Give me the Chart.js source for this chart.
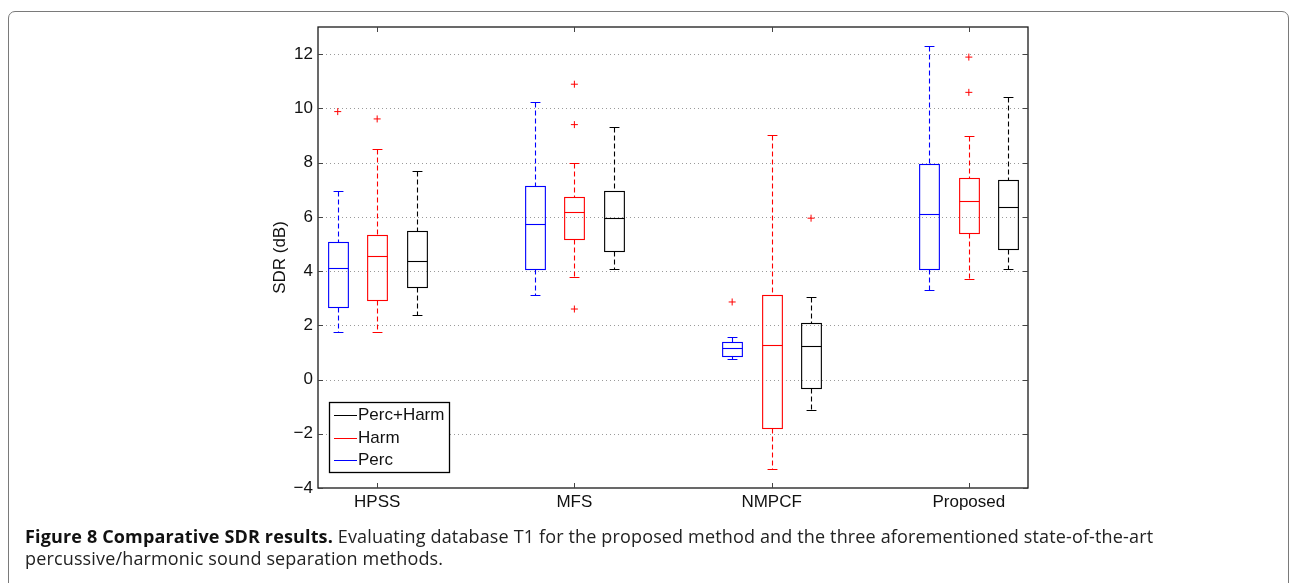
<!DOCTYPE html>
<html>
<head>
<meta charset="utf-8">
<script src="https://cdn.jsdelivr.net/npm/chart.js@4/dist/chart.umd.min.js"></script>
<style>
    html, body { margin: 0; padding: 0; background: #fff; }
    body { width: 1294px; height: 583px; position: relative; overflow: hidden; }
    .card {
        position: absolute; left: 8px; top: 11px; width: 1281px; height: 600px;
        border: 1px solid #7a7a7a; border-radius: 7px; box-sizing: border-box;
    }
    #chart-wrap { position: absolute; left: 0; top: 0; width: 1294px; height: 583px; }
    .caption {
        position: absolute; left: 25px; top: 525px;
        font-family: "Open Sans", sans-serif; font-size: 18px; line-height: 22px;
        color: #222; white-space: nowrap; letter-spacing: 0.15px;
    }
    .caption b { font-weight: 700; color: #111; }
</style>
</head>
<body>
<div class="card"></div>
<div id="chart-wrap"><canvas id="sdrChart" width="1294" height="583"></canvas></div>
<div class="caption"><b>Figure 8 Comparative SDR results.</b> Evaluating database T1 for the proposed method and the three aforementioned state-of-the-art<br>percussive/harmonic sound separation methods.</div>

<script>
// Categories and five-number summaries [lower whisker, Q1, median, Q3, upper whisker]
const categories = ["HPSS", "MFS", "NMPCF", "Proposed"];

const percStats = [
    [1.77, 2.67, 4.13, 5.07, 6.95],
    [3.10, 4.09, 5.75, 7.14, 10.25],
    [0.74, 0.87, 1.18, 1.38, 1.58],
    [3.29, 4.09, 6.11, 7.93, 12.29]
];
const harmStats = [
    [1.74, 2.92, 4.56, 5.33, 8.49],
    [3.78, 5.19, 6.16, 6.74, 7.99],
    [-3.30, -1.77, 1.29, 3.13, 9.03],
    [3.70, 5.40, 6.60, 7.44, 8.99]
];
const bothStats = [
    [2.38, 3.41, 4.36, 5.47, 7.69],
    [4.09, 4.74, 5.94, 6.97, 9.32],
    [-1.12, -0.30, 1.23, 2.08, 3.04],
    [4.09, 4.82, 6.35, 7.37, 10.43]
];

// Outliers per category
const percOutliers = [[9.88], [], [2.86], []];
const harmOutliers = [[9.61], [10.89, 9.40, 2.60], [], [11.89, 10.59]];
const bothOutliers = [[], [], [5.95], []];

const yTicks = [-4, -2, 0, 2, 4, 6, 8, 10, 12];

// ✅ Series setup (offset along the category axis)
const series = [
    { label: "Perc", color: "#0000ff", stats: percStats, outliers: percOutliers, offset: -0.2 },
    { label: "Harm", color: "#ff0000", stats: harmStats, outliers: harmOutliers, offset: 0 },
    { label: "Perc+Harm", color: "#000000", stats: bothStats, outliers: bothOutliers, offset: 0.2 }
];

const FONT = "Liberation Sans, Arial, sans-serif";

function outlierPoints(s) {
    const pts = [];
    s.outliers.forEach((vals, i) => vals.forEach(v => pts.push({ x: i + 1 + s.offset, y: v })));
    return pts;
}

// ✅ Grid, frame and inward ticks
const framePlugin = {
    id: "frame",
    beforeDatasetsDraw(chart) {
        const { ctx, chartArea: a, scales: { y } } = chart;
        ctx.save();
        ctx.strokeStyle = "#9a9a9a";
        ctx.lineWidth = 1;
        ctx.setLineDash([1, 3]);
        yTicks.forEach(v => {
            const py = Math.round(y.getPixelForValue(v)) + 0.5;
            if (py <= a.top + 1 || py >= a.bottom - 1) return;
            ctx.beginPath();
            ctx.moveTo(a.left, py);
            ctx.lineTo(a.right, py);
            ctx.stroke();
        });
        ctx.restore();
    },
    afterDatasetsDraw(chart) {
        const { ctx, chartArea: a, scales: { x, y } } = chart;
        ctx.save();
        ctx.strokeStyle = "#1a1a1a";
        ctx.lineWidth = 1.3;
        ctx.setLineDash([]);
        ctx.strokeRect(a.left, a.top, a.right - a.left, a.bottom - a.top);
        ctx.strokeStyle = "#444";
        ctx.lineWidth = 1;
        yTicks.forEach(v => {
            const py = Math.round(y.getPixelForValue(v)) + 0.5;
            ctx.beginPath();
            ctx.moveTo(a.left, py); ctx.lineTo(a.left + 5, py);
            ctx.moveTo(a.right, py); ctx.lineTo(a.right - 5, py);
            ctx.stroke();
        });
        categories.forEach((c, i) => {
            const px = Math.round(x.getPixelForValue(i + 1)) + 0.5;
            ctx.beginPath();
            ctx.moveTo(px, a.bottom); ctx.lineTo(px, a.bottom - 5);
            ctx.moveTo(px, a.top); ctx.lineTo(px, a.top + 5);
            ctx.stroke();
        });
        ctx.restore();
    }
};

// ✅ Box and whisker drawing through the chart scales
const boxPlugin = {
    id: "boxes",
    beforeDatasetsDraw(chart) {
        const { ctx, scales: { x, y } } = chart;
        const halfBox = x.getPixelForValue(1.05) - x.getPixelForValue(1);
        const halfCap = x.getPixelForValue(1.025) - x.getPixelForValue(1);
        ctx.save();
        ctx.lineWidth = 1.1;
        series.forEach(s => {
            ctx.strokeStyle = s.color;
            s.stats.forEach((st, i) => {
                const cx = Math.round(x.getPixelForValue(i + 1 + s.offset)) + 0.5;
                const [lo, q1, med, q3, hi] = st.map(v => Math.round(y.getPixelForValue(v)) + 0.5);
                // whiskers
                ctx.setLineDash([5, 3]);
                ctx.beginPath();
                ctx.moveTo(cx, hi); ctx.lineTo(cx, q3);
                ctx.moveTo(cx, q1); ctx.lineTo(cx, lo);
                ctx.stroke();
                ctx.setLineDash([]);
                ctx.beginPath();
                ctx.moveTo(cx - halfCap, hi); ctx.lineTo(cx + halfCap, hi);
                ctx.moveTo(cx - halfCap, lo); ctx.lineTo(cx + halfCap, lo);
                ctx.stroke();
                // box and median
                ctx.strokeRect(cx - halfBox, q3, halfBox * 2, q1 - q3);
                ctx.beginPath();
                ctx.moveTo(cx - halfBox, med); ctx.lineTo(cx + halfBox, med);
                ctx.stroke();
            });
        });
        ctx.restore();
    }
};

// ✅ Legend box inside the plot
const legendPlugin = {
    id: "boxLegend",
    afterDraw(chart) {
        const { ctx, chartArea: a } = chart;
        const left = a.left + 11, top = a.bottom - 86, w = 120, h = 70;
        ctx.save();
        ctx.fillStyle = "#fff";
        ctx.fillRect(left, top, w, h);
        ctx.strokeStyle = "#000";
        ctx.lineWidth = 1.3;
        ctx.strokeRect(left + 0.5, top + 0.5, w, h);
        ctx.font = "17px " + FONT;
        ctx.textBaseline = "middle";
        ctx.fillStyle = "#111";
        const order = [series[2], series[1], series[0]];
        order.forEach((s, k) => {
            const ry = Math.round(top + 13 + k * 22.5) + 0.5;
            ctx.strokeStyle = s.color;
            ctx.lineWidth = 1;
            ctx.beginPath();
            ctx.moveTo(left + 5, ry); ctx.lineTo(left + 28, ry);
            ctx.stroke();
            ctx.fillText(s.label, left + 29, ry);
        });
        ctx.restore();
    }
};

document.addEventListener("DOMContentLoaded", function () {
    const ctx = document.getElementById("sdrChart").getContext("2d");

    new Chart(ctx, {
        type: "scatter",
        data: {
            datasets: series.map(s => ({
                label: s.label,
                data: outlierPoints(s),
                pointStyle: "cross",
                pointRadius: 3.5,
                borderColor: "#ff0000",
                backgroundColor: "#ff0000",
                borderWidth: 1
            }))
        },
        options: {
            responsive: false,
            animation: false,
            layout: { padding: { left: 266, right: 266, top: 27, bottom: 63 } },
            plugins: { legend: { display: false }, tooltip: { enabled: false } },
            scales: {
                x: {
                    type: "linear",
                    min: 0.7,
                    max: 4.3,
                    grid: { display: false, drawTicks: false },
                    border: { display: false },
                    afterBuildTicks: scale => { scale.ticks = categories.map((c, i) => ({ value: i + 1 })); },
                    afterFit: scale => { scale.height = 32; },
                    ticks: {
                        padding: 4,
                        color: "#111",
                        font: { family: FONT, size: 17 },
                        maxRotation: 0,
                        callback: v => categories[v - 1] || ""
                    }
                },
                y: {
                    min: -4,
                    max: 13,
                    grid: { display: false, drawTicks: false },
                    border: { display: false },
                    afterBuildTicks: scale => { scale.ticks = yTicks.map(v => ({ value: v })); },
                    afterFit: scale => { scale.width = 52; },
                    title: {
                        display: true,
                        text: "SDR (dB)",
                        color: "#111",
                        font: { family: FONT, size: 17 },
                        padding: { top: 4, bottom: 0 }
                    },
                    ticks: {
                        padding: 5,
                        color: "#111",
                        font: { family: FONT, size: 17 },
                        callback: v => v < 0 ? "\u2212" + Math.abs(v) : String(v)
                    }
                }
            }
        },
        plugins: [framePlugin, boxPlugin, legendPlugin]
    });
});
</script>
</body>
</html>
